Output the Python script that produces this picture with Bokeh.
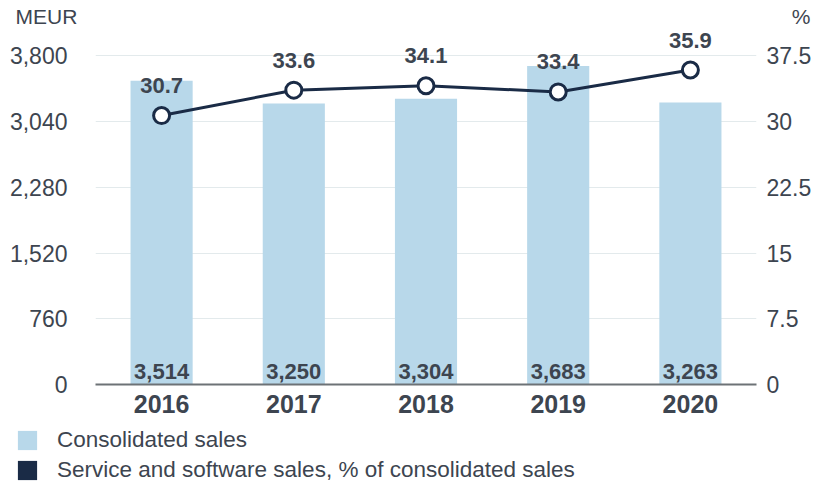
from bokeh.plotting import figure
from bokeh.layouts import column
from bokeh.models import (Range1d, LinearAxis, FixedTicker, NumeralTickFormatter,
                          Legend, LegendItem, ColumnDataSource)
from bokeh.core.properties import value
from bokeh.embed import file_html
from bokeh.resources import INLINE

years = ["2016", "2017", "2018", "2019", "2020"]
sales = [3514, 3250, 3304, 3683, 3263]
share = [30.7, 33.6, 34.1, 33.4, 35.9]
sales_ticks = [0, 760, 1520, 2280, 3040, 3800]
share_ticks = [0, 7.5, 15, 22.5, 30, 37.5]
unit_left = "MEUR"
unit_right = "%"
legend_labels = ["Consolidated sales",
                 "Service and software sales, % of consolidated sales"]

FONT = "Liberation Sans"
TXT = "#3d4550"
BAR = "#b8d8ea"
NAVY = "#1a2b46"
GRID = "#e3eaec"
W = 814

TOP = 4118  # headroom above the 3800 gridline for the line labels
PCT_TOP = share_ticks[-1] * TOP / sales_ticks[-1]

src = ColumnDataSource(dict(
    year=years, sales=sales, share=share,
    sales_lbl=[f"{v:,}" for v in sales],
    share_lbl=[f"{v:.1f}" for v in share],
))

# ---- header with unit labels
hd = figure(width=W, height=28, x_range=Range1d(0, W), y_range=Range1d(0, 28),
            output_backend="svg", toolbar_location=None,
            x_axis_location=None, y_axis_location=None,
            min_border=0, outline_line_color=None)
hd.frame_align = False
hd.grid.visible = False
hd.text(x=[15], y=[1], text=[unit_left], text_baseline="alphabetic", y_offset=-11,
        text_font=value(FONT), text_font_size="21px", text_color=TXT)
hd.text(x=[810], y=[1], text=[unit_right], text_align="right",
        text_baseline="alphabetic", y_offset=-11,
        text_font=value(FONT), text_font_size="21px", text_color=TXT)

# ---- main chart
p = figure(x_range=years, y_range=Range1d(0, TOP), width=W, height=398,
           output_backend="svg", toolbar_location=None,
           min_border_left=95, min_border_top=0, min_border_right=10,
           min_border_bottom=42,
           outline_line_color=None, background_fill_color=None)
p.extra_y_ranges = {"pct": Range1d(0, PCT_TOP)}

ly = p.yaxis[0]
ly.ticker = FixedTicker(ticks=sales_ticks)
ly.formatter = NumeralTickFormatter(format="0,0")
ly.axis_line_color = None
ly.major_tick_line_color = None
ly.minor_tick_line_color = None
ly.major_label_text_font = FONT
ly.major_label_text_font_size = "23px"
ly.major_label_text_color = TXT
ly.major_label_standoff = 22

ry = LinearAxis(y_range_name="pct", ticker=FixedTicker(ticks=share_ticks),
                formatter=NumeralTickFormatter(format="0.[0]"))
ry.axis_line_color = None
ry.major_tick_line_color = None
ry.minor_tick_line_color = None
ry.major_label_text_font = FONT
ry.major_label_text_font_size = "23px"
ry.major_label_text_color = TXT
ry.major_label_standoff = 4
p.add_layout(ry, "right")

xa = p.xaxis[0]
xa.axis_line_color = "#6d7276"
xa.axis_line_width = 2
xa.major_tick_line_color = None
xa.minor_tick_line_color = None
xa.major_label_text_font = FONT
xa.major_label_text_font_size = "25px"
xa.major_label_text_font_style = "bold"
xa.major_label_text_color = TXT
xa.major_label_standoff = 4

p.xgrid.grid_line_color = None
p.ygrid.ticker = FixedTicker(ticks=sales_ticks)
p.ygrid.grid_line_color = GRID

p.vbar(x="year", top="sales", width=0.47, fill_color=BAR, line_color=None, source=src)
p.line(x="year", y="share", y_range_name="pct", line_color=NAVY, line_width=3, source=src)
p.scatter(x="year", y="share", y_range_name="pct", size=16, fill_color="white",
          line_color=NAVY, line_width=3, source=src)

p.text(x="year", y=0, text="sales_lbl", source=src, text_align="center",
       text_baseline="alphabetic", y_offset=-13, text_font=value(FONT),
       text_font_style="bold", text_font_size="22px", text_color=TXT)
p.text(x="year", y="share", y_range_name="pct", text="share_lbl", source=src,
       text_align="center", text_baseline="alphabetic", y_offset=-30,
       text_font=value(FONT), text_font_style="bold", text_font_size="22px",
       text_color=TXT)

# ---- legend (swatch renderers sit outside the legend figure's visible range)
lf = figure(width=W, height=63, x_range=Range1d(0, 1), y_range=Range1d(0, 1),
            output_backend="svg", toolbar_location=None,
            x_axis_location=None, y_axis_location=None,
            min_border=0, outline_line_color=None)
lf.frame_align = False
lf.grid.visible = False
r1 = lf.quad(left=[-3], right=[-2], top=[-2], bottom=[-3], fill_color=BAR, line_color=None)
r2 = lf.quad(left=[-3], right=[-2], top=[-2], bottom=[-3], fill_color=NAVY, line_color=None)
legend = Legend(items=[LegendItem(label=legend_labels[0], renderers=[r1]),
                       LegendItem(label=legend_labels[1], renderers=[r2])],
                orientation="vertical", location=(15, 6),
                glyph_width=24, glyph_height=24, label_standoff=18,
                spacing=4, padding=0, margin=0,
                label_text_font=FONT, label_text_font_size="22.5px",
                label_text_color=TXT, label_height=24,
                background_fill_alpha=0, border_line_color=None)
lf.add_layout(legend)

layout = column(hd, p, lf, spacing=0)
open("out.html", "w").write(file_html(layout, INLINE))
